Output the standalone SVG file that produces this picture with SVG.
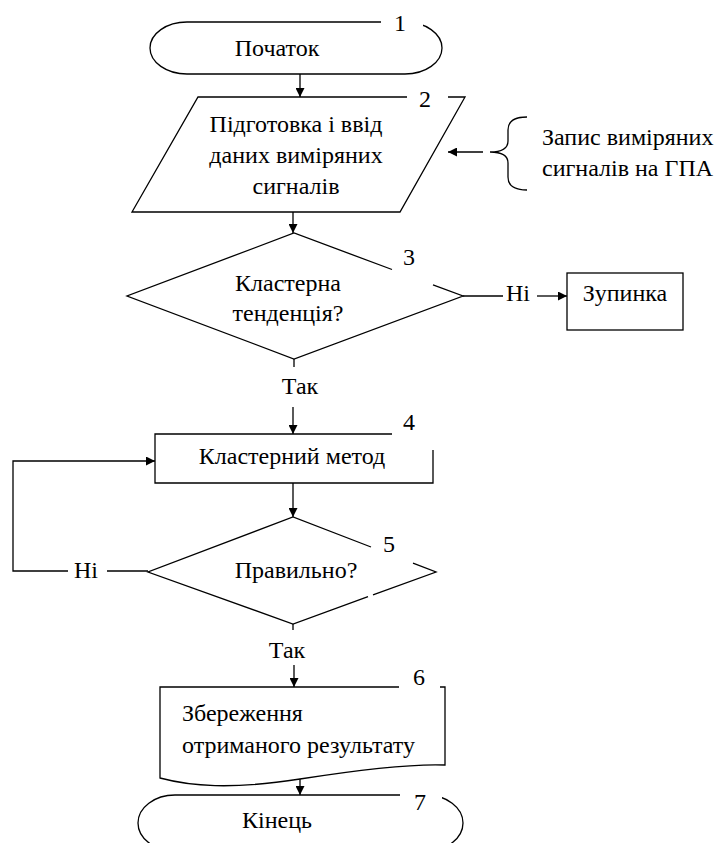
<svg xmlns="http://www.w3.org/2000/svg" width="714" height="843" viewBox="0 0 714 843">
<style>
.s{fill:none;stroke:#000;stroke-width:1.3}
.t{font-family:'Liberation Serif','Times New Roman',serif;font-size:24px;fill:#000}
.c{text-anchor:middle}
.m{fill:#fff;stroke:none}
</style>
<defs>
<marker id="ah" viewBox="0 0 10 10" refX="10" refY="5" markerWidth="9" markerHeight="9" markerUnits="userSpaceOnUse" orient="auto">
<path d="M0,0 L10,5 L0,10 Z" fill="#000"/>
</marker>
</defs>
<rect width="714" height="843" fill="#fff"/>
<g id="connectors">
<line class="s" x1="300" y1="74" x2="300" y2="97" marker-end="url(#ah)"/>
<line class="s" x1="293" y1="212" x2="293" y2="233" marker-end="url(#ah)"/>
<line class="s" x1="483" y1="152" x2="448" y2="152" marker-end="url(#ah)"/>
<line class="s" x1="463" y1="296" x2="503" y2="296"/>
<text class="t" x="506" y="301">Ні</text>
<line class="s" x1="537" y1="296" x2="567" y2="296" marker-end="url(#ah)"/>
<line class="s" x1="294" y1="359" x2="294" y2="367"/>
<text class="t c" x="300" y="394">Так</text>
<line class="s" x1="293" y1="407" x2="293" y2="434" marker-end="url(#ah)"/>
<line class="s" x1="293" y1="483" x2="293" y2="517" marker-end="url(#ah)"/>
<line class="s" x1="148" y1="571" x2="107" y2="571"/>
<text class="t" x="74" y="578">Ні</text>
<polyline class="s" points="68,571 13,571 13,461 155,461" marker-end="url(#ah)"/>
<line class="s" x1="293" y1="624" x2="293" y2="630"/>
<text class="t c" x="287" y="658">Так</text>
<line class="s" x1="294" y1="665" x2="294" y2="687" marker-end="url(#ah)"/>
<line class="s" x1="300" y1="779" x2="300" y2="795" marker-end="url(#ah)"/>
</g>
<g id="node1">
<path class="s" d="M187,22 H405 A37,26 0 0 1 405,74 H187 A37,26 0 0 1 187,22 Z"/>
<rect class="m" x="381" y="10" width="42" height="16"/>
<text class="t c" x="400" y="31">1</text>
<text class="t c" x="277" y="56">Початок</text>
</g>
<g id="node2">
<path class="s" d="M407,97 L198,97 L132,212 L400,212 L465,97 L448,97"/>
<text class="t c" x="425" y="107">2</text>
<text class="t c" x="296" y="132">Підготовка і ввід</text>
<text class="t c" x="296" y="163">даних виміряних</text>
<text class="t c" x="296" y="194">сигналів</text>
</g>
<g id="note">
<path class="s" d="M527,117 Q508,117 508,130 V141 Q508,152 490,152 Q508,152 508,163 V177 Q508,190 527,190"/>
<text class="t" x="542" y="145">Запис виміряних</text>
<text class="t" x="542" y="176">сигналів на ГПА</text>
</g>
<g id="node3">
<path class="s" d="M392,269.5 L294,233 L127,296 L294,359 L463,296 L433,284.8"/>
<text class="t c" x="409" y="265">3</text>
<text class="t c" x="288" y="291">Кластерна</text>
<text class="t c" x="288" y="321">тенденція?</text>
</g>
<g id="stop">
<rect class="s" x="567" y="273" width="116" height="57"/>
<text class="t c" x="625" y="301">Зупинка</text>
</g>
<g id="node4">
<path class="s" d="M392,434 H155 V483 H433 V450"/>
<text class="t c" x="409" y="430">4</text>
<text class="t c" x="292" y="464">Кластерний метод</text>
</g>
<g id="node5">
<path class="s" d="M371,547 L293,517 L148,572 L293,624 L368,596.7 M373,594.9 L436,572 L413,563.2"/>
<text class="t c" x="389" y="552">5</text>
<text class="t c" x="296" y="578">Правильно?</text>
</g>
<g id="node6">
<path class="s" d="M399,687 H160 V778 C190,786 230,790 300,779 S420,764 445,765 V687 H440"/>
<text class="t c" x="419" y="685">6</text>
<text class="t" x="182" y="721">Збереження</text>
<text class="t" x="182" y="753">отриманого результату</text>
</g>
<g id="node7">
<path class="s" d="M175,795 H426 A37,28 0 0 1 426,851 H175 A37,28 0 0 1 175,795 Z"/>
<rect class="m" x="400" y="785" width="42" height="14"/>
<text class="t c" x="420" y="810">7</text>
<text class="t c" x="277" y="828">Кінець</text>
</g>
</svg>
